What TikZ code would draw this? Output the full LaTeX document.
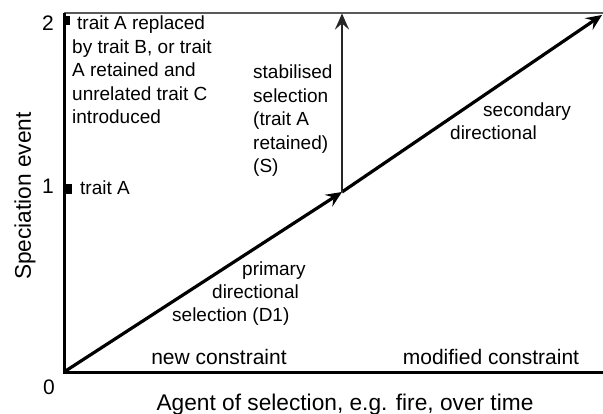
\documentclass[tikz,border=0pt]{standalone}
\usepackage{fontspec}
\setmainfont{Liberation Sans}
\usetikzlibrary{arrows.meta}
\begin{document}
\begin{tikzpicture}[x=1pt,y=-1pt,
  lbl/.style={inner sep=0pt, font=\fontsize{19}{23.5}\selectfont, align=left},
  axlbl/.style={inner sep=0pt, font=\fontsize{22.7}{27}\selectfont},
  num/.style={inner sep=0pt, font=\fontsize{21}{25}\selectfont},
  cons/.style={inner sep=0pt, font=\fontsize{21}{25}\selectfont},
  axisline/.style={line width=3pt, black},
  topline/.style={line width=2pt, black!65},
  sel/.style={line width=3.2pt, -{Stealth[length=16pt,width=14pt,inset=6pt]}},
  stab/.style={line width=2.6pt, black!85, -{Stealth[length=16pt,width=14pt,inset=6pt]}},
  tickmark/.style={fill=black},
]
\useasboundingbox (0,0) rectangle (603,414);
% frame
\coordinate (O) at (64,372);
\coordinate (TL) at (64,13);
\coordinate (TR) at (603,13);
\coordinate (BR) at (603,372);
\coordinate (J) at (342,192);
\coordinate (T) at (342,13.5);
\coordinate (E) at (602,15);
\draw[topline] (TL) -- (TR);
\draw[axisline] (TL) -- (O) -- (BR);
% ticks
\fill[tickmark] (64,16) rectangle (70,25);
\fill[tickmark] (64,184) rectangle (72,194);
% numbers
\node[num] (n0) at (49,387) {0};
\node[num] (n1) at (48,186) {1};
\node[num] (n2) at (48,23) {2};
% arrows
\draw[sel] (O) -- (J);
\draw[sel] (J) -- (E);
\draw[stab] (J) -- (T);
% axis labels
\node[axlbl, rotate=90] (ylab) at (25,196) {Speciation event};
\node[axlbl, anchor=base] (xlab) at (345,410) {Agent of selection, e.g. fire, over time};
% constraint labels
\node[cons, anchor=base] (newc) at (219,364) {new constraint};
\node[cons, anchor=base] (modc) at (491,364) {modified constraint};
% texts (base anchor = baseline of the last line)
\node[lbl, anchor=base west] (t2) at (72,124) {\hspace*{5pt}trait A replaced\\by trait B, or trait\\A retained and\\unrelated trait C\\introduced};
\node[lbl, anchor=base west] (t1) at (80,195) {trait A};
\node[lbl, anchor=base west] (stabtxt) at (253,173) {stabilised\\selection\\(trait A\\retained)\\(S)};
\node[lbl, anchor=base west] (sectxt) at (450,140) {\hspace*{33pt}secondary\\directional};
\node[lbl, anchor=base west] (primtxt) at (172,322) {\hspace*{70pt}primary\\\hspace*{40pt}directional\\selection (D1)};
\end{tikzpicture}
\end{document}
